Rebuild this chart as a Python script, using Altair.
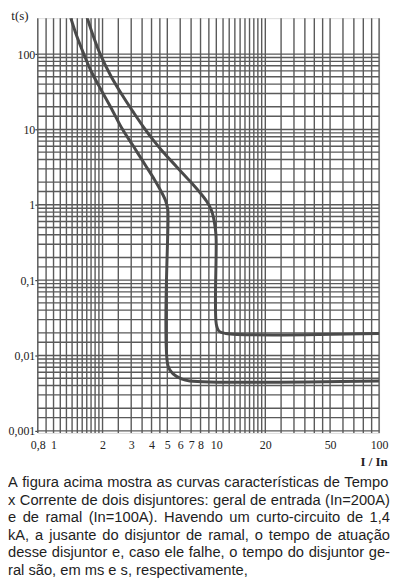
import altair as alt
import pandas as pd

# ---------------- data ----------------
x_grid = [0.8, 0.9, 1, 1.1, 1.2, 1.3, 1.4, 1.5, 1.6, 1.7, 1.8, 1.9, 2, 2.5, 3, 3.5, 4, 4.5,
          5, 6, 7, 8, 9, 10, 11, 12, 13, 14, 15, 16, 17, 18, 19, 20, 25, 30, 35, 40, 45,
          50, 60, 70, 80, 90, 100]
y_grid = [0.001, 0.0015, 0.002, 0.003, 0.004, 0.005, 0.006, 0.007, 0.008, 0.009,
          0.01, 0.015, 0.02, 0.03, 0.04, 0.05, 0.06, 0.07, 0.08, 0.09,
          0.1, 0.15, 0.2, 0.3, 0.4, 0.5, 0.6, 0.7, 0.8, 0.9,
          1, 1.5, 2, 3, 4, 5, 6, 7, 8, 9,
          10, 15, 20, 30, 40, 50, 60, 70, 80, 90, 100]
x_labels = [0.8, 1, 2, 3, 4, 5, 6, 7, 8, 10, 20, 50, 100]
y_labels = [0.001, 0.01, 0.1, 1, 10, 100]

# branch breaker (In=100A) - inner curve
ramal_i = [1.26, 1.378, 1.535, 1.70, 1.95, 2.25, 2.64, 3.11, 3.66, 4.18, 4.58, 4.88, 5.03,
           5.05, 5.05, 5.43, 6.11, 6.87, 100]
ramal_t = [330, 182, 100, 59.7, 34.2, 19.6, 10.2, 5.89, 3.38, 2.14, 1.51, 1.13, 0.875,
           0.665, 0.0073, 0.0057, 0.0049, 0.0046, 0.0046]
# main breaker (In=200A) - outer curve
geral_i = [1.59, 1.741, 1.935, 2.25, 2.70, 3.12, 3.59, 4.10, 4.71, 5.68, 6.86, 7.89, 8.70,
           9.33, 9.73, 9.96, 10.0, 10.4, 11.45, 100]
geral_t = [330, 182, 100, 51.3, 26.5, 16.5, 10.6, 7.22, 5.02, 3.23, 2.08, 1.475, 1.122,
           0.849, 0.589, 0.385, 0.026, 0.021, 0.0196, 0.0196]

y_title = "t(s)"
x_title = "I / In"
paragraph = [
    "A figura acima mostra as curvas características de Tempo",
    "x Corrente de dois disjuntores: geral de entrada (In=200A)",
    "e de ramal (In=100A). Havendo um curto-circuito de 1,4",
    "kA, a jusante do disjuntor de ramal, o tempo de atuação",
    "desse disjuntor e, caso ele falhe, o tempo do disjuntor ge-",
    "ral são, em ms e s, respectivamente,",
]

# ---------------- layout ----------------
W, H = 344, 418
X_DOM = [0.8, 100]
Y_DOM = [0.00094, 300]
GRID = "#5a5a5a"
CURVE = "#4a4a4a"
SERIF = "Liberation Serif"
SANS = "Liberation Sans"
PFS = 14.8          # paragraph font size
P_LEFT = -30        # paragraph left edge relative to plot
P_WIDTH = 385       # justified width
P_BASE0 = 473       # first baseline relative to plot top
P_LEAD = 17.6

# Arial / Liberation Sans advance widths (per 1000 em)
AW = {" ": 278, ",": 278, ".": 278, ":": 278, "(": 333, ")": 333, "=": 584, "-": 333,
      "0": 556, "1": 556, "2": 556, "4": 556,
      "A": 667, "C": 722, "H": 722, "I": 278, "T": 611,
      "a": 556, "b": 556, "c": 500, "d": 556, "e": 556, "f": 278, "g": 556, "h": 556,
      "i": 222, "j": 222, "k": 500, "l": 222, "m": 833, "n": 556, "o": 556, "p": 556,
      "q": 556, "r": 333, "s": 500, "t": 278, "u": 556, "v": 500, "w": 722, "x": 500,
      "y": 500, "z": 500, "í": 278, "ã": 556, "ç": 500}


def tw(s):
    return sum(AW.get(c, 556) for c in s) * PFS / 1000.0


words = []
for li, line in enumerate(paragraph):
    ws = line.split(" ")
    base = P_BASE0 + li * P_LEAD
    sp = AW[" "] * PFS / 1000.0
    if li < len(paragraph) - 1 and len(ws) > 1:
        natural = sum(tw(w) for w in ws) + sp * (len(ws) - 1)
        gap = sp + (P_WIDTH - natural) / (len(ws) - 1)
    else:
        gap = sp
    x = P_LEFT
    for w in ws:
        words.append({"w": w, "px": x, "py": base})
        x += tw(w) + gap
words_df = pd.DataFrame(words)

curves_df = pd.concat([
    pd.DataFrame({"i": ramal_i, "t": ramal_t, "curve": "ramal", "o": range(len(ramal_i))}),
    pd.DataFrame({"i": geral_i, "t": geral_t, "curve": "geral", "o": range(len(geral_i))}),
])

xscale = alt.Scale(type="log", domain=X_DOM, nice=False)
yscale = alt.Scale(type="log", domain=Y_DOM, nice=False)
label_expr = "replace(toString(datum.value), '.', ',')"
xaxis = alt.Axis(values=x_labels, labelExpr=label_expr, title=None, grid=False, domain=False,
                 ticks=False, labelPadding=7, labelFont=SERIF, labelFontSize=12,
                 labelColor="#222", labelFlush=False, labelOverlap=False)
yaxis = alt.Axis(values=y_labels, labelExpr=label_expr, title=None, grid=False, domain=False,
                 ticks=True, tickSize=3, tickColor="#444", tickWidth=1.2, labelPadding=0,
                 labelFont=SERIF, labelFontSize=12, labelColor="#222", labelFlush=False,
                 labelOverlap=False)

grid_v = alt.Chart(pd.DataFrame({"g": x_grid})).mark_rule(
    color=GRID, strokeWidth=1.4).encode(x=alt.X("g:Q", scale=xscale, axis=xaxis))
grid_h = alt.Chart(pd.DataFrame({"g": y_grid})).mark_rule(
    color=GRID, strokeWidth=1.4).encode(y=alt.Y("g:Q", scale=yscale, axis=yaxis))

curves = alt.Chart(curves_df).mark_line(
    interpolate="catmull-rom", clip=True, color=CURVE, strokeWidth=3).encode(
    x=alt.X("i:Q", scale=xscale, axis=xaxis),
    y=alt.Y("t:Q", scale=yscale, axis=yaxis),
    detail="curve:N",
    order="o:Q",
)

t_label = alt.Chart(pd.DataFrame({"s": [y_title]})).mark_text(
    font=SERIF, fontSize=13, color="#222", align="center", baseline="alphabetic").encode(
    text="s:N", x=alt.value(-18), y=alt.value(2))
i_label = alt.Chart(pd.DataFrame({"s": [x_title]})).mark_text(
    font=SERIF, fontSize=13, color="#222", align="center", baseline="alphabetic",
    fontWeight="bold").encode(
    text="s:N", x=alt.value(339), y=alt.value(451))

para = alt.Chart(words_df).mark_text(
    font=SANS, fontSize=PFS, color="#1e1e1e", align="left", baseline="alphabetic").encode(
    text="w:N",
    x=alt.X("px:Q", scale=None, axis=None),
    y=alt.Y("py:Q", scale=None, axis=None),
)

chart = alt.layer(grid_v, grid_h, curves, t_label, i_label, para).properties(
    width=W, height=H,
    autosize=alt.AutoSizeParams(type="none"),
    padding={"left": 30, "top": 8, "right": 11, "bottom": 144},
).configure_view(stroke="#505050", strokeWidth=1.6).configure(background="white")

chart.save("out.html", embed_options={"renderer": "svg", "actions": False})
